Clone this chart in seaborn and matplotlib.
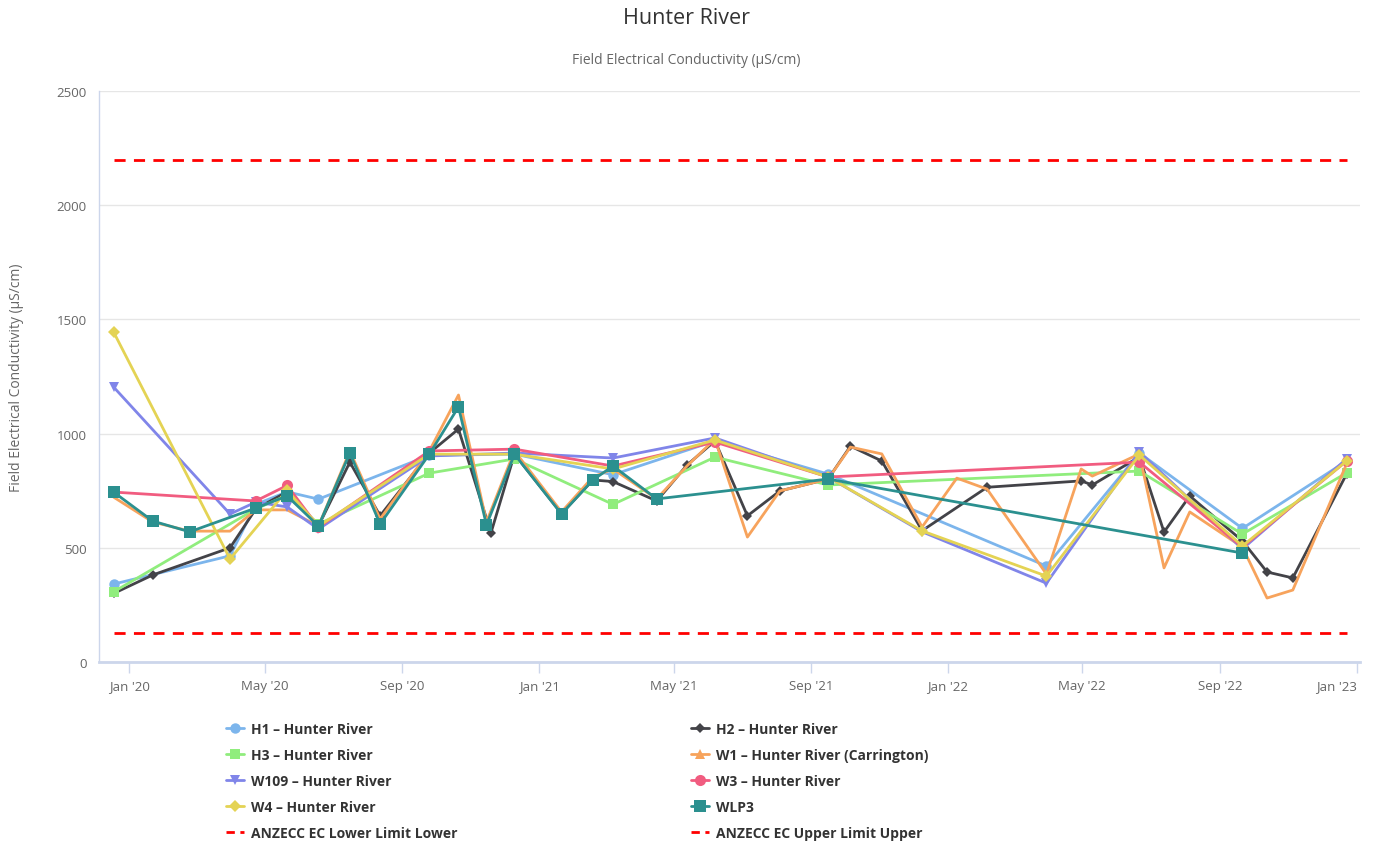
import pandas as pd
import matplotlib
matplotlib.use("Agg")
import matplotlib.pyplot as plt
import matplotlib.dates as mdates
from matplotlib.lines import Line2D
import seaborn as sns

# ---- data ----
h1_dates = ["2019-12-18", "2020-03-31", "2020-04-23", "2020-05-21", "2020-06-18", "2020-09-25",
            "2020-12-10", "2021-03-08", "2021-06-07", "2021-09-16", "2022-03-30", "2022-06-21",
            "2022-09-21", "2022-12-23"]
h1_vals = [341, 465, 690, 745, 713, 905, 910, 820, 968, 823, 420, 915, 585, 880]

h2_dates = ["2019-12-18", "2020-01-22", "2020-03-31", "2020-04-23", "2020-05-21", "2020-06-18",
            "2020-07-16", "2020-08-12", "2020-09-25", "2020-10-21", "2020-11-19", "2020-12-10",
            "2021-01-21", "2021-02-18", "2021-03-08", "2021-04-16", "2021-05-13", "2021-06-07",
            "2021-07-06", "2021-08-04", "2021-09-16", "2021-10-06", "2021-11-03", "2021-12-09",
            "2022-02-05", "2022-04-30", "2022-05-10", "2022-06-21", "2022-07-13", "2022-08-05",
            "2022-09-21", "2022-10-13", "2022-11-05", "2022-12-23"]
h2_vals = [300, 381, 500, 670, 745, 596, 875, 640, 915, 1020, 565, 910,
           650, 797, 790, 705, 862, 968, 640, 749, 801, 945, 880, 575,
           765, 793, 775, 898, 569, 727, 530, 394, 368, 823]

h3_dates = ["2019-12-18", "2020-04-23", "2020-05-21", "2020-06-18", "2020-09-25", "2020-12-10",
            "2021-03-08", "2021-06-07", "2021-09-16", "2022-06-21", "2022-09-21", "2022-12-23"]
h3_vals = [307, 670, 730, 604, 827, 889, 690, 897, 775, 836, 560, 828]

w1_dates = ["2019-12-18", "2020-01-22", "2020-02-24", "2020-03-31", "2020-04-23", "2020-05-21",
            "2020-06-18", "2020-07-16", "2020-08-12", "2020-09-25", "2020-10-21", "2020-11-15",
            "2020-12-10", "2021-01-21", "2021-02-18", "2021-03-08", "2021-04-16", "2021-05-13",
            "2021-06-07", "2021-07-06", "2021-08-04", "2021-09-16", "2021-10-06", "2021-11-03",
            "2021-12-09", "2022-01-09", "2022-02-05", "2022-03-30", "2022-04-30", "2022-05-10",
            "2022-06-21", "2022-07-13", "2022-08-05", "2022-09-21", "2022-10-13", "2022-11-05",
            "2022-12-23"]
w1_vals = [722, 613, 573, 573, 666, 666, 595, 924, 626, 924, 1169, 613,
           924, 657, 810, 845, 714, 858, 976, 547, 749, 801, 941, 911,
           591, 805, 757, 385, 845, 814, 911, 412, 657, 503, 280, 315, 867]

w109_dates = ["2019-12-18", "2020-03-31", "2020-04-23", "2020-05-21", "2020-06-18", "2020-09-25",
              "2020-12-10", "2021-03-08", "2021-06-07", "2021-09-16", "2021-12-09", "2022-03-30",
              "2022-06-21", "2022-09-21", "2022-12-23"]
w109_vals = [1204, 648, 700, 679, 582, 902, 915, 893, 981, 810, 570, 345, 920, 495, 889]

w3_dates = ["2019-12-18", "2020-04-23", "2020-05-21", "2020-06-18", "2020-09-25", "2020-12-10",
            "2021-03-08", "2021-06-07", "2021-09-16", "2022-06-21", "2022-09-21", "2022-12-23"]
w3_vals = [744, 705, 773, 590, 924, 932, 858, 963, 810, 875, 503, 880]

w4_dates = ["2019-12-18", "2020-03-31", "2020-05-21", "2020-06-18", "2020-09-25", "2020-12-10",
            "2021-03-08", "2021-06-07", "2021-09-16", "2021-12-09", "2022-03-30", "2022-06-21",
            "2022-09-21", "2022-12-23"]
w4_vals = [1445, 451, 752, 595, 910, 910, 845, 972, 810, 574, 376, 906, 508, 880]

wlp3_dates = ["2019-12-18", "2020-01-22", "2020-02-24", "2020-04-23", "2020-05-21", "2020-06-18",
              "2020-07-16", "2020-08-12", "2020-09-25", "2020-10-21", "2020-11-15", "2020-12-10",
              "2021-01-21", "2021-02-18", "2021-03-08", "2021-04-16", "2021-09-16", "2022-09-21"]
wlp3_vals = [744, 617, 570, 674, 727, 595, 915, 604, 910, 1117, 600, 910,
             648, 797, 858, 714, 801, 477]

limit_dates = ["2019-12-18", "2022-12-23"]
lower_limit = [125, 125]
upper_limit = [2200, 2200]

# ---- figure setup ----
sns.set_style("white")
plt.rcParams['font.family'] = ['Open Sans', 'DejaVu Sans']

fig = plt.figure(figsize=(13.73, 8.45), dpi=100)
ax = fig.add_axes([99 / 1373, 1 - 663 / 845, 1261 / 1373, 571 / 845])

# name, dates, values, colour, marker, marker size
series = [
    ("H1 \u2013 Hunter River", h1_dates, h1_vals, "#7cb5ec", "o", 7.5),
    ("H2 \u2013 Hunter River", h2_dates, h2_vals, "#434348", "D", 5.5),
    ("H3 \u2013 Hunter River", h3_dates, h3_vals, "#90ed7d", "s", 7),
    ("W1 \u2013 Hunter River (Carrington)", w1_dates, w1_vals, "#f7a35c", "^", 7),
    ("W109 \u2013 Hunter River", w109_dates, w109_vals, "#8085e9", "v", 7),
    ("W3 \u2013 Hunter River", w3_dates, w3_vals, "#f15c80", "o", 8),
    ("W4 \u2013 Hunter River", w4_dates, w4_vals, "#e4d354", "D", 6),
    ("WLP3", wlp3_dates, wlp3_vals, "#2b908f", "s", 8),
]

handles = {}
for i, (name, d, v, c, m, ms) in enumerate(series):
    # W1 is too dense, so its markers are hidden on the chart (not in the legend)
    show_marker = None if name.startswith("W1 ") else m
    sns.lineplot(x=pd.to_datetime(d), y=v, ax=ax, color=c, linewidth=2,
                 marker=show_marker, markersize=ms, markeredgewidth=0,
                 legend=False, zorder=3 + i)
    handles[name] = Line2D([], [], color=c, lw=2, marker=m, markersize=ms, markeredgewidth=0)

limit_dt = pd.to_datetime(limit_dates)
sns.lineplot(x=limit_dt, y=lower_limit, ax=ax, color="#ff0000", linewidth=2,
             legend=False, zorder=12)
sns.lineplot(x=limit_dt, y=upper_limit, ax=ax, color="#ff0000", linewidth=2,
             legend=False, zorder=12)
for ln in ax.lines[-2:]:
    ln.set_linestyle((0, (4, 3)))

lim_handle_lo = Line2D([], [], color="#ff0000", lw=2, linestyle=(0, (3, 2)))
lim_handle_hi = Line2D([], [], color="#ff0000", lw=2, linestyle=(0, (3, 2)))

# ---- axes styling ----
ax.set_ylim(0, 2500)
ax.set_yticks([0, 500, 1000, 1500, 2000, 2500])
ax.set_xlim(pd.Timestamp("2019-12-05"), pd.Timestamp("2023-01-04"))
ax.xaxis.set_major_locator(mdates.MonthLocator(bymonth=[1, 5, 9]))
ax.xaxis.set_major_formatter(mdates.DateFormatter("%b '%y"))
ax.grid(axis="y", color="#e6e6e6", linewidth=1)
ax.grid(axis="x", visible=False)
ax.set_xlabel("")
ax.set_ylabel("")

for s in ["top", "right"]:
    ax.spines[s].set_visible(False)
ax.spines["left"].set_color("#ccd6eb")
ax.spines["left"].set_linewidth(1)
ax.spines["bottom"].set_color("#ccd6eb")
ax.spines["bottom"].set_linewidth(2)

ax.tick_params(axis="x", direction="out", length=8, width=1, color="#ccd6eb",
               labelcolor="#666666", labelsize=9.5, pad=4, bottom=True)
ax.tick_params(axis="y", length=0, labelcolor="#666666", labelsize=9.5, pad=9)

# keep the last date label inside the figure, like the original
fig.canvas.draw()
xlabels = ax.get_xticklabels()
xlabels[-1].set_horizontalalignment("right")

# ---- titles ----
fig.text(0.5, 1 - 19 / 845, "Hunter River", ha="center", va="center",
         fontsize=15.5, color="#333333")
fig.text(0.5, 1 - 60 / 845, "Field Electrical Conductivity (\u00b5S/cm)", ha="center",
         va="center", fontsize=10, color="#666666")
fig.text(17 / 1373, 1 - 378 / 845, "Field Electrical Conductivity (\u00b5S/cm)", rotation=90,
         ha="center", va="center", fontsize=10, color="#666666")

# ---- legend (two columns, drawn as two legends) ----
names = [s[0] for s in series]
col1 = [names[0], names[2], names[4], names[6]]
col2 = [names[1], names[3], names[5], names[7]]
leg_kw = dict(frameon=False, loc="upper left", handlelength=1.3, handletextpad=0.5,
              labelspacing=0.87, borderaxespad=0, borderpad=0,
              prop={"size": 10, "weight": "bold"}, labelcolor="#333333")
fig.legend([handles[n] for n in col1] + [lim_handle_lo],
           col1 + ["ANZECC EC Lower Limit Lower"],
           bbox_to_anchor=(226 / 1373, 1 - 723 / 845), **leg_kw)
fig.legend([handles[n] for n in col2] + [lim_handle_hi],
           col2 + ["ANZECC EC Upper Limit Upper"],
           bbox_to_anchor=(691 / 1373, 1 - 723 / 845), **leg_kw)

fig.savefig("out.png", dpi=100, facecolor="white")
